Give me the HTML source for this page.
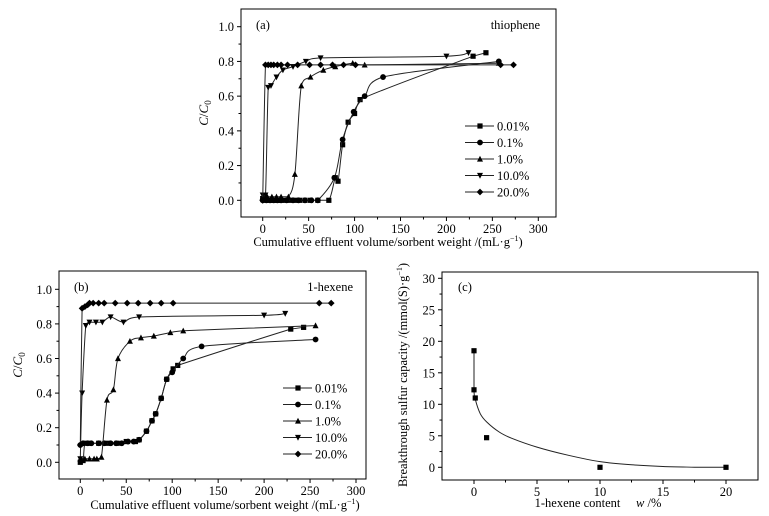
<!DOCTYPE html>
<html><head><meta charset="utf-8">
<style>
html,body{margin:0;padding:0;background:#fff;}
svg{display:block;font-family:"Liberation Serif","DejaVu Serif",serif;}
</style></head>
<body>
<svg id="chart" width="769" height="516" viewBox="0 0 769 516" xmlns="http://www.w3.org/2000/svg"></svg>
<script>
// ---- data ----
const seriesLabels = ["0.01%","0.1%","1.0%","10.0%","20.0%"];
const markerTypes = ["square","circle","triangle","itriangle","diamond"];
const xTicksAB = [0,50,100,150,200,250,300];
const yTicksAB = [0.0,0.2,0.4,0.6,0.8,1.0];
const xTicksC = [0,5,10,15,20];
const yTicksC = [0,5,10,15,20,25,30];

// panel (a) thiophene
const aS1x = [0,3,6,9,12,16,20,25,30,35,40,46,52,60,72,79,82,87,93,100,106,229,243];
const aS1y = [0.01,0,0,0,0,0,0,0,0,0,0,0,0,0,0,0.13,0.11,0.32,0.45,0.50,0.58,0.83,0.85];
const aS2x = [0,4,8,12,16,20,26,33,39,46,53,60,78,87,99,111,131,257];
const aS2y = [0,0,0,0,0,0,0,0,0,0,0,0,0.13,0.35,0.51,0.60,0.71,0.80];
const aS3x = [0,5,10,15,20,28,35,42,52,66,79,98,111,257];
const aS3y = [0.02,0.02,0.02,0.02,0.02,0.02,0.15,0.66,0.71,0.75,0.77,0.79,0.78,0.79];
const aS4x = [0,3,6,9,15,22,33,47,63,200,224];
const aS4y = [0.03,0.03,0.65,0.66,0.71,0.75,0.77,0.80,0.82,0.83,0.85];
const aS5x = [0,3,6,9,12,16,20,27,38,51,63,76,88,101,259,273];
const aS5y = [0,0.78,0.78,0.78,0.78,0.78,0.78,0.78,0.78,0.78,0.78,0.78,0.78,0.78,0.78,0.78];

// panel (b) 1-hexene
const bS1x = [0,3,5,10,20,30,40,50,60,64,72,78,82,88,94,101,106,229,243];
const bS1y = [0,0.01,0.11,0.11,0.11,0.11,0.11,0.12,0.12,0.13,0.18,0.24,0.28,0.37,0.48,0.54,0.56,0.77,0.78];
const bS2x = [0,3,8,12,20,26,33,39,45,52,58,64,72,78,82,88,94,100,112,132,256];
const bS2y = [0.10,0.11,0.11,0.11,0.11,0.11,0.11,0.11,0.11,0.12,0.12,0.13,0.18,0.24,0.28,0.37,0.48,0.52,0.60,0.67,0.71];
const bS3x = [0,5,10,15,18,23,29,36,41,54,66,80,98,112,256];
const bS3y = [0.02,0.02,0.02,0.02,0.02,0.03,0.36,0.42,0.60,0.70,0.72,0.73,0.75,0.76,0.79];
const bS4x = [0,2,6,10,17,24,33,47,64,200,223];
const bS4y = [0.02,0.40,0.79,0.81,0.81,0.81,0.84,0.81,0.84,0.85,0.86];
const bS5x = [0,2,5,8,10,14,20,26,38,51,63,76,88,101,260,273];
const bS5y = [0.10,0.89,0.90,0.91,0.92,0.92,0.92,0.92,0.92,0.92,0.92,0.92,0.92,0.92,0.92,0.92];

// panel (c)
const cPx = [0,0,0.1,1,10,20];
const cPy = [18.5,12.3,11,4.7,0,0];
const cFitX = [0,0,0.1,0.5,1,2,3,5,7.5,10,12.5,15,17.5,20];
const cFitY = [18.5,12.3,10.8,8.5,7.2,5.6,4.6,3.2,1.9,0.9,0.4,0.12,0.02,0];

// ---- drawing ----
const NS="http://www.w3.org/2000/svg";
const svg=document.getElementById('chart');
function el(tag,attrs,parent){const e=document.createElementNS(NS,tag);for(const k in attrs)e.setAttribute(k,attrs[k]);(parent||svg).appendChild(e);return e;}
function lin(d0,d1,p0,p1){return v=>p0+(v-d0)*(p1-p0)/(d1-d0);}
function clamp(v,a,b){const lo=Math.min(a,b),hi=Math.max(a,b);return Math.max(lo,Math.min(hi,v));}
function spline(pts){
  let d="M"+pts[0][0].toFixed(1)+","+pts[0][1].toFixed(1);
  for(let i=0;i<pts.length-1;i++){
    const p0=pts[Math.max(0,i-1)],p1=pts[i],p2=pts[i+1],p3=pts[Math.min(pts.length-1,i+2)];
    const c1=[clamp(p1[0]+(p2[0]-p0[0])/6,p1[0],p2[0]),clamp(p1[1]+(p2[1]-p0[1])/6,p1[1],p2[1])];
    const c2=[clamp(p2[0]-(p3[0]-p1[0])/6,p1[0],p2[0]),clamp(p2[1]-(p3[1]-p1[1])/6,p1[1],p2[1])];
    d+=" C"+c1[0].toFixed(1)+","+c1[1].toFixed(1)+" "+c2[0].toFixed(1)+","+c2[1].toFixed(1)+" "+p2[0].toFixed(1)+","+p2[1].toFixed(1);
  }
  return d;
}
function marker(type,x,y,g){
  const s=2.6;let m;
  if(type==="square")m=el('rect',{x:x-s,y:y-s,width:2*s,height:2*s,fill:'#000'},g);
  else if(type==="circle")m=el('circle',{cx:x,cy:y,r:s+0.3,fill:'#000'},g);
  else if(type==="triangle")m=el('polygon',{points:`${x},${y-s-0.6} ${x+s+0.4},${y+s} ${x-s-0.4},${y+s}`,fill:'#000'},g);
  else if(type==="itriangle")m=el('polygon',{points:`${x},${y+s+0.6} ${x+s+0.4},${y-s} ${x-s-0.4},${y-s}`,fill:'#000'},g);
  else m=el('polygon',{points:`${x},${y-s-0.8} ${x+s+0.8},${y} ${x},${y+s+0.8} ${x-s-0.8},${y}`,fill:'#000'},g);
  
  
}
function axes(p){
  const g=el('g',{});
  
  
  const f=el('rect',{x:p.L,y:p.T,width:p.R-p.L,height:p.B-p.T,fill:'none',stroke:'#000','stroke-width':1},g);
  
  
  p.xt.forEach((v,i)=>{
    const x=p.sx(v);
    el('line',{x1:x,y1:p.B,x2:x,y2:p.B+4,stroke:'#000'},g);
    const t=el('text',{x:x,y:p.B+16,'text-anchor':'middle','font-size':12.5},g);t.textContent=v;
    
    
    if(i<p.xt.length-1){const xm=p.sx(v+(p.xt[1]-p.xt[0])/2);el('line',{x1:xm,y1:p.B,x2:xm,y2:p.B+2.5,stroke:'#000'},g);}
  });
  p.yt.forEach((v,i)=>{
    const y=p.sy(v);
    el('line',{x1:p.L-4,y1:y,x2:p.L,y2:y,stroke:'#000'},g);
    const t=el('text',{x:p.L-7,y:y+4.5,'text-anchor':'end','font-size':12.5},g);t.textContent=p.yfmt(v);
    
    
    if(i<p.yt.length-1){const ym=p.sy(v+(p.yt[1]-p.yt[0])/2);el('line',{x1:p.L-2.5,y1:ym,x2:p.L,y2:ym,stroke:'#000'},g);}
  });
  return g;
}
function breakPanel(p,series){
  axes(p);
  series.forEach((s,k)=>{
    const g=el('g',{});
    
    
    const pts=s[0].map((x,i)=>[p.sx(x),p.sy(s[1][i])]);
    el('path',{d:spline(pts),fill:'none',stroke:'#222','stroke-width':1},g);
    pts.forEach(q=>marker(markerTypes[k],q[0],q[1],g));
  });
  const lg=el('g',{});
  
  
  seriesLabels.forEach((lab,k)=>{
    const y=p.legY+k*16.5;
    el('line',{x1:p.legX,y1:y,x2:p.legX+29,y2:y,stroke:'#222'},lg);
    marker(markerTypes[k],p.legX+15,y,lg);
    const t=el('text',{x:p.legX+32,y:y+4.5,'font-size':12.5},lg);t.textContent=lab;
    
    
  });
}
function txt(s,attrs,name){const t=el('text',attrs);t.innerHTML=s;return t;}

// Panel a
const pa={name:'panel-a',L:241,R:556,T:9,B:217,sx:lin(0,300,262.7,538.3),sy:lin(0,1,200.3,26.7),xt:xTicksAB,yt:yTicksAB,yfmt:v=>v.toFixed(1),legX:465,legY:126};
breakPanel(pa,[[aS1x,aS1y],[aS2x,aS2y],[aS3x,aS3y],[aS4x,aS4y],[aS5x,aS5y]]);
txt('(a)',{x:256,y:29,'font-size':12.5},'panel-a-label');
txt('thiophene',{x:540,y:29,'font-size':12.5,'text-anchor':'end'},'panel-a-title');
txt('Cumulative effluent volume/sorbent weight /(mL·g<tspan font-size="8" dy="-5">−1</tspan><tspan dy="5">)</tspan>',{x:388,y:246,'font-size':12.5,'text-anchor':'middle'},'x-axis-title');
txt('<tspan font-style="italic">C</tspan>/<tspan font-style="italic">C</tspan><tspan font-size="9" dy="3">0</tspan>',{transform:'translate(208,113) rotate(-90)','font-size':13,'text-anchor':'middle'},'y-axis-title');

// Panel b
const pb={name:'panel-b',L:59,R:366,T:271,B:479,sx:lin(0,300,80.3,356),sy:lin(0,1,462.3,289.3),xt:xTicksAB,yt:yTicksAB,yfmt:v=>v.toFixed(1),legX:283,legY:388};
breakPanel(pb,[[bS1x,bS1y],[bS2x,bS2y],[bS3x,bS3y],[bS4x,bS4y],[bS5x,bS5y]]);
txt('(b)',{x:74,y:291,'font-size':12.5},'panel-b-label');
txt('1-hexene',{x:353,y:291,'font-size':12.5,'text-anchor':'end'},'panel-b-title');
txt('Cumulative effluent volume/sorbent weight /(mL·g<tspan font-size="8" dy="-5">−1</tspan><tspan dy="5">)</tspan>',{x:225,y:509,'font-size':12.5,'text-anchor':'middle'},'x-axis-title');
txt('<tspan font-style="italic">C</tspan>/<tspan font-style="italic">C</tspan><tspan font-size="9" dy="3">0</tspan>',{transform:'translate(22,365) rotate(-90)','font-size':13,'text-anchor':'middle'},'y-axis-title');

// Panel c
const pc={name:'panel-c',L:442,R:758,T:272,B:480,sx:lin(0,20,474,726),sy:lin(0,30,467.3,278.3),xt:xTicksC,yt:yTicksC,yfmt:v=>v};
axes(pc);
const cg=el('g',{});


const fitPts=cFitX.map((x,i)=>[pc.sx(x),pc.sy(cFitY[i])]);
const fit=el('path',{d:spline(fitPts),fill:'none',stroke:'#222','stroke-width':1},cg);


cPx.forEach((x,i)=>marker('square',pc.sx(x),pc.sy(cPy[i]),cg));
txt('(c)',{x:458,y:291,'font-size':12.5},'panel-c-label');
txt('1-hexene content &#160;&#160;&#160; <tspan font-style="italic">w</tspan> /%',{x:598,y:507,'font-size':12.5,'text-anchor':'middle'},'x-axis-title');
txt('Breakthrough sulfur capacity /(mmol(S)·g<tspan font-size="8" dy="-5">−1</tspan><tspan dy="5">)</tspan>',{transform:'translate(407,375) rotate(-90)','font-size':12.5,'text-anchor':'middle'},'y-axis-title');
</script>
</body></html>
